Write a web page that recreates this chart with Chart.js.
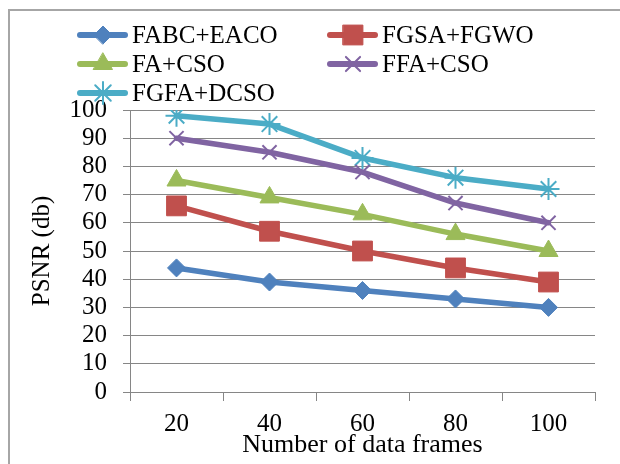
<!DOCTYPE html>
<html>
<head>
<meta charset="utf-8">
<script src="https://cdn.jsdelivr.net/npm/chart.js@4.4.0/dist/chart.umd.min.js"></script>
<style>
  html, body { margin: 0; padding: 0; background: #fff; overflow: hidden; }
  #frame { position: absolute; left: 8px; top: 9px; width: 800px; height: 700px; border: 2px solid #a6a6a6; }
  #grafico { position: absolute; left: 0; top: 0; }
</style>
</head>
<body>
<div id="frame"></div>
<canvas id="grafico" width="620" height="464"></canvas>
<script>
/* ================= DADOS ================= */

const frames = ["20", "40", "60", "80", "100"];

const fabcEaco = [44, 39, 36, 33, 30];
const fgsaFgwo = [66, 57, 50, 44, 39];
const faCso = [75, 69, 63, 56, 50];
const ffaCso = [90, 85, 78, 67, 60];
const fgfaDcso = [98, 95, 83, 76, 72];

const yTicks = [0, 10, 20, 30, 40, 50, 60, 70, 80, 90, 100];

const fonte = "'Liberation Serif', 'Times New Roman', serif";
const corGrade = "#868686";

/* ================= SERIES ================= */

function serie(label, data, cor, estilo, raio, borda) {
  return {
    label,
    data,
    borderColor: cor,
    backgroundColor: cor,
    borderWidth: 5.5,
    borderJoinStyle: "round",
    borderCapStyle: "round",
    tension: 0,
    pointStyle: estilo,
    pointRadius: raio,
    pointHoverRadius: raio,
    pointBackgroundColor: cor,
    pointBorderColor: cor,
    pointBorderWidth: borda
  };
}

const datasets = [
  serie("FABC+EACO", fabcEaco, "#4F81BD", "rectRot", 9, 1),
  serie("FGSA+FGWO", fgsaFgwo, "#C0504D", "rect", 14, 1),
  serie("FA+CSO", faCso, "#9BBB59", "triangle", 11, 1),
  serie("FFA+CSO", ffaCso, "#8064A2", "crossRot", 10, 2),
  serie("FGFA+DCSO", fgfaDcso, "#4BACC6", "star", 11, 2)
];

/* ================= LEGENDA ================= */

const legendaPlugin = {
  id: "legendaDuasColunas",
  afterDraw(chart) {
    const ctx = chart.ctx;
    const colunas = [77, 327];
    const linhas = [35, 64, 93];
    ctx.save();
    chart.data.datasets.forEach((ds, i) => {
      const x = colunas[i % 2];
      const y = linhas[Math.floor(i / 2)];
      ctx.strokeStyle = ds.borderColor;
      ctx.lineWidth = 6;
      ctx.lineCap = "round";
      ctx.beginPath();
      ctx.moveTo(x + 3, y);
      ctx.lineTo(x + 48, y);
      ctx.stroke();
      ctx.fillStyle = ds.pointBackgroundColor;
      ctx.strokeStyle = ds.pointBorderColor;
      ctx.lineWidth = ds.pointBorderWidth;
      Chart.helpers.drawPoint(ctx, {
        pointStyle: ds.pointStyle,
        radius: ds.pointRadius,
        borderWidth: ds.pointBorderWidth,
        rotation: 0
      }, x + 26, y);
      ctx.fillStyle = "#000";
      ctx.font = "25px " + fonte;
      ctx.textAlign = "left";
      ctx.textBaseline = "middle";
      ctx.fillText(ds.label, x + 55, y + 1);
    });
    ctx.restore();
  }
};

/* ================= GRAFICO ================= */

new Chart(document.getElementById("grafico"), {
  type: "line",
  data: { labels: frames, datasets },
  plugins: [legendaPlugin],
  options: {
    responsive: false,
    animation: false,
    layout: { padding: { top: 110, right: 25, left: 0, bottom: 0 } },
    plugins: {
      legend: { display: false },
      tooltip: { enabled: false }
    },
    scales: {
      x: {
        offset: true,
        grid: {
          offset: true,
          drawOnChartArea: false,
          drawTicks: true,
          tickLength: 9,
          color: corGrade,
          lineWidth: 1
        },
        border: { color: corGrade, width: 1 },
        ticks: {
          color: "#000",
          padding: 8,
          font: { family: fonte, size: 25, lineHeight: 1.2 }
        },
        title: {
          display: true,
          text: "Number of data frames",
          color: "#000",
          padding: { top: 0, bottom: 3 },
          font: { family: fonte, size: 26, lineHeight: 1.2 }
        },
        afterFit(scale) { scale.height = 72; }
      },
      y: {
        min: 0,
        max: 100,
        afterBuildTicks(scale) { scale.ticks = yTicks.map(v => ({ value: v })); },
        grid: {
          drawTicks: true,
          tickLength: 7,
          color: corGrade,
          lineWidth: 1
        },
        border: { color: corGrade, width: 1 },
        ticks: {
          color: "#000",
          padding: 16,
          autoSkip: false,
          font: { family: fonte, size: 25, lineHeight: 1.2 }
        },
        title: {
          display: true,
          text: "PSNR (db)",
          color: "#000",
          padding: { top: 27, bottom: 0 },
          font: { family: fonte, size: 25, lineHeight: 1.2 }
        },
        afterFit(scale) { scale.width = 130; }
      }
    }
  }
});
</script>
</body>
</html>
